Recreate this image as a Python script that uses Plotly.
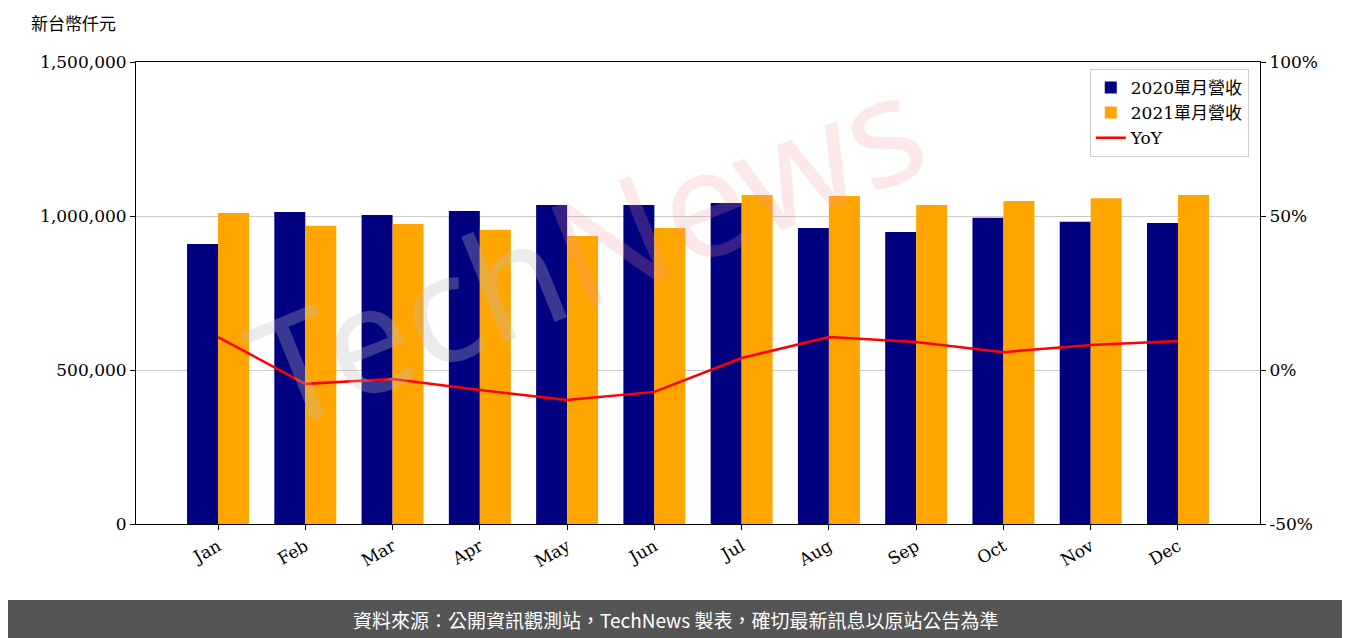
import plotly.graph_objects as go

months = ['Jan', 'Feb', 'Mar', 'Apr', 'May', 'Jun', 'Jul', 'Aug', 'Sep', 'Oct', 'Nov', 'Dec']
rev_2020 = [909000, 1013000, 1003000, 1016000, 1036000, 1036000, 1042000, 961000, 948000, 994000, 981000, 977000]
rev_2021 = [1010000, 968000, 974000, 955000, 935000, 961000, 1068000, 1065000, 1036000, 1049000, 1058000, 1068000]
yoy = [10.7, -4.5, -2.9, -6.5, -9.7, -7.1, 3.9, 10.7, 9.1, 5.8, 8.1, 9.4]

font_main = 'DejaVu Serif, Noto Sans CJK TC'

fig = go.Figure()
fig.add_trace(go.Bar(x=months, y=rev_2020, name='2020單月營收', marker=dict(color='#000080', line_width=0)))
fig.add_trace(go.Bar(x=months, y=rev_2021, name='2021單月營收', marker=dict(color='#FFA500', line_width=0)))
fig.add_trace(go.Scatter(x=months, y=yoy, name='YoY', mode='lines', line=dict(color='red', width=2.5), yaxis='y2'))

fig.update_layout(
    width=1334, height=630,
    plot_bgcolor='white', paper_bgcolor='white',
    margin=dict(l=128, r=82, t=54, b=114),
    font=dict(family=font_main, size=17, color='black'),
    bargap=0.29, bargroupgap=0,
    showlegend=True,
    legend=dict(x=0.99, y=0.985, xanchor='right', yanchor='top', bordercolor='#cccccc', borderwidth=1,
                bgcolor='rgba(255,255,255,0.8)', font=dict(size=17)),
    xaxis=dict(type='category', range=[-0.94, 11.94], tickangle=-30, showline=True, linecolor='black',
               mirror=True, ticks='outside', tickcolor='black', showgrid=False, automargin=False),
    yaxis=dict(range=[0, 1500000], tickvals=[0, 500000, 1000000, 1500000],
               ticktext=['0', '500,000', '1,000,000', '1,500,000'], showline=True, linecolor='black',
               ticks='outside', tickcolor='black', gridcolor='#cccccc', zeroline=False, automargin=False),
    yaxis2=dict(range=[-50, 100], tickvals=[-50, 0, 50, 100], ticktext=['-50%', '0%', '50%', '100%'],
                overlaying='y', side='right', showgrid=False, ticks='outside', tickcolor='black',
                showline=True, linecolor='black', zeroline=False, automargin=False),
    annotations=[
        dict(text='新台幣仟元', xref='paper', yref='paper', x=-0.095, y=1.055, showarrow=False,
             xanchor='left', yanchor='bottom', font=dict(size=17, family='Noto Sans CJK TC')),
        dict(text="<span style='color:rgba(190,190,190,0.3)'>Tech</span><span style='color:rgba(240,150,150,0.22)'>News</span>",
             xref='paper', yref='paper', x=0.4, y=0.6, showarrow=False,
             textangle=-22, font=dict(size=150, family='Noto Sans')),
        dict(text='資料來源：公開資訊觀測站，TechNews 製表，確切最新訊息以原站公告為準', xref='paper', yref='paper',
             x=0.48, y=-0.207, xanchor='center', yanchor='middle', showarrow=False,
             font=dict(size=19, color='white', family='Noto Sans CJK TC')),
    ],
    shapes=[dict(type='rect', xref='paper', yref='paper', x0=-0.2, x1=1.2, y0=-0.35, y1=-0.1645,
                 fillcolor='#555555', line_width=0, layer='below')],
)

fig.write_html('out.html')
